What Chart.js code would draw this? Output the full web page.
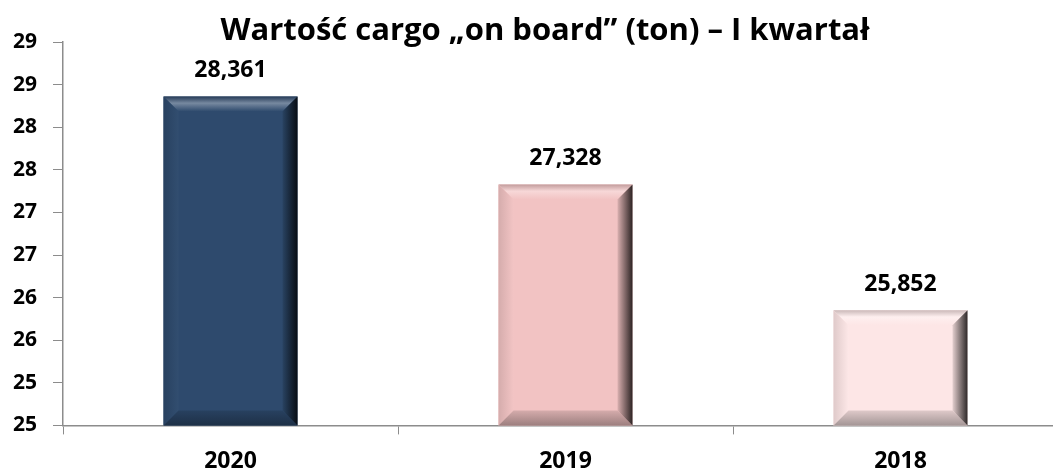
<!DOCTYPE html>
<html>
<head>
<meta charset="utf-8">
<script src="https://cdn.jsdelivr.net/npm/chart.js"></script>
<style>
  html, body { margin: 0; padding: 0; background: #fff; overflow: hidden; }
  #wrap { width: 1070px; height: 489px; position: relative; }
</style>
</head>
<body>
<div id="wrap"><canvas id="cargo-chart"></canvas></div>
<script>
// dane z wykresu
const years = ["2020", "2019", "2018"];
const cargoValues = [28.361, 27.328, 25.852];
const barColors = ["#2E4A6D", "#F2C3C3", "#FDE6E6"];
const valueLabels = ["28,361", "27,328", "25,852"];
const chartTitle = "Wartość cargo „on board” (ton) – I kwartał";

const FONT = "'Open Sans', Lato, sans-serif";

// pomocnicze: rozjaśnianie / przyciemnianie koloru
function shade(hex, amt) {
  const n = parseInt(hex.slice(1), 16);
  let r = (n >> 16) & 255, g = (n >> 8) & 255, b = n & 255;
  const f = c => amt >= 0 ? Math.round(c + (255 - c) * amt) : Math.round(c * (1 + amt));
  return `rgb(${f(r)},${f(g)},${f(b)})`;
}

// efekt fazowania słupków
const bevelPlugin = {
  id: "bevel",
  afterDatasetsDraw(chart) {
    const ctx = chart.ctx;
    const meta = chart.getDatasetMeta(0);
    meta.data.forEach((bar, i) => {
      const base = barColors[i];
      const l = bar.x - bar.width / 2, r = bar.x + bar.width / 2;
      const t = bar.y, btm = Math.min(bar.base, chart.chartArea.bottom);
      const s = 15;
      ctx.save();
      // góra
      let g = ctx.createLinearGradient(0, t, 0, t + s);
      g.addColorStop(0, shade(base, -0.2));
      g.addColorStop(0.45, shade(base, 0.35));
      g.addColorStop(1, base);
      ctx.fillStyle = g;
      ctx.beginPath();
      ctx.moveTo(l, t); ctx.lineTo(r, t); ctx.lineTo(r - s, t + s); ctx.lineTo(l + s, t + s); ctx.closePath();
      ctx.fill();
      // lewa
      g = ctx.createLinearGradient(l, 0, l + s, 0);
      g.addColorStop(0, shade(base, -0.12));
      g.addColorStop(1, shade(base, 0.02));
      ctx.fillStyle = g;
      ctx.beginPath();
      ctx.moveTo(l, t); ctx.lineTo(l + s, t + s); ctx.lineTo(l + s, btm - s); ctx.lineTo(l, btm); ctx.closePath();
      ctx.fill();
      // dół
      g = ctx.createLinearGradient(0, btm - s, 0, btm);
      g.addColorStop(0, shade(base, -0.12));
      g.addColorStop(1, shade(base, -0.35));
      ctx.fillStyle = g;
      ctx.beginPath();
      ctx.moveTo(l, btm); ctx.lineTo(l + s, btm - s); ctx.lineTo(r - s, btm - s); ctx.lineTo(r, btm); ctx.closePath();
      ctx.fill();
      // prawa
      g = ctx.createLinearGradient(r - s, 0, r, 0);
      g.addColorStop(0, shade(base, -0.1));
      g.addColorStop(1, shade(base, -0.82));
      ctx.fillStyle = g;
      ctx.beginPath();
      ctx.moveTo(r, t); ctx.lineTo(r, btm); ctx.lineTo(r - s, btm - s); ctx.lineTo(r - s, t + s); ctx.closePath();
      ctx.fill();
      ctx.restore();
    });
  }
};

// etykiety wartości nad słupkami + tytuł
const labelPlugin = {
  id: "valueLabels",
  afterDraw(chart) {
    const ctx = chart.ctx;
    ctx.save();
    ctx.fillStyle = "#000";
    ctx.textAlign = "center";
    ctx.textBaseline = "middle";
    ctx.font = `bold 23px ${FONT}`;
    chart.getDatasetMeta(0).data.forEach((bar, i) => {
      ctx.fillText(valueLabels[i], bar.x, bar.y - 26);
    });
    ctx.textBaseline = "alphabetic";
    ctx.font = `bold 31px ${FONT}`;
    ctx.fillText(chartTitle, 545, 40);
    ctx.restore();
  }
};

new Chart(document.getElementById("cargo-chart"), {
  type: "bar",
  data: {
    labels: years,
    datasets: [{
      data: cargoValues,
      backgroundColor: barColors,
      borderWidth: 0,
      categoryPercentage: 1,
      barPercentage: 0.4
    }]
  },
  options: {
    responsive: true,
    maintainAspectRatio: false,
    animation: false,
    layout: { padding: { top: 42, left: -3, right: 2, bottom: 1 } },
    plugins: {
      legend: { display: false },
      tooltip: { enabled: false }
    },
    scales: {
      x: {
        offset: true,
        grid: { offset: true, drawOnChartArea: false, drawTicks: true, tickLength: 9, color: "#8c8c8c" },
        border: { color: "#8c8c8c", width: 1.5 },
        ticks: { color: "#000", font: { family: FONT, size: 23, weight: "bold" }, padding: 13 }
      },
      y: {
        min: 24.5,
        max: 29,
        grid: { drawOnChartArea: false, drawTicks: true, tickLength: 10, color: "#8c8c8c" },
        border: { color: "#8c8c8c", width: 1.5 },
        ticks: {
          stepSize: 0.5,
          color: "#000",
          font: { family: FONT, size: 21, weight: "bold" },
          padding: 16,
          callback: v => Math.round(v)
        }
      }
    }
  },
  plugins: [bevelPlugin, labelPlugin]
});
</script>
</body>
</html>
